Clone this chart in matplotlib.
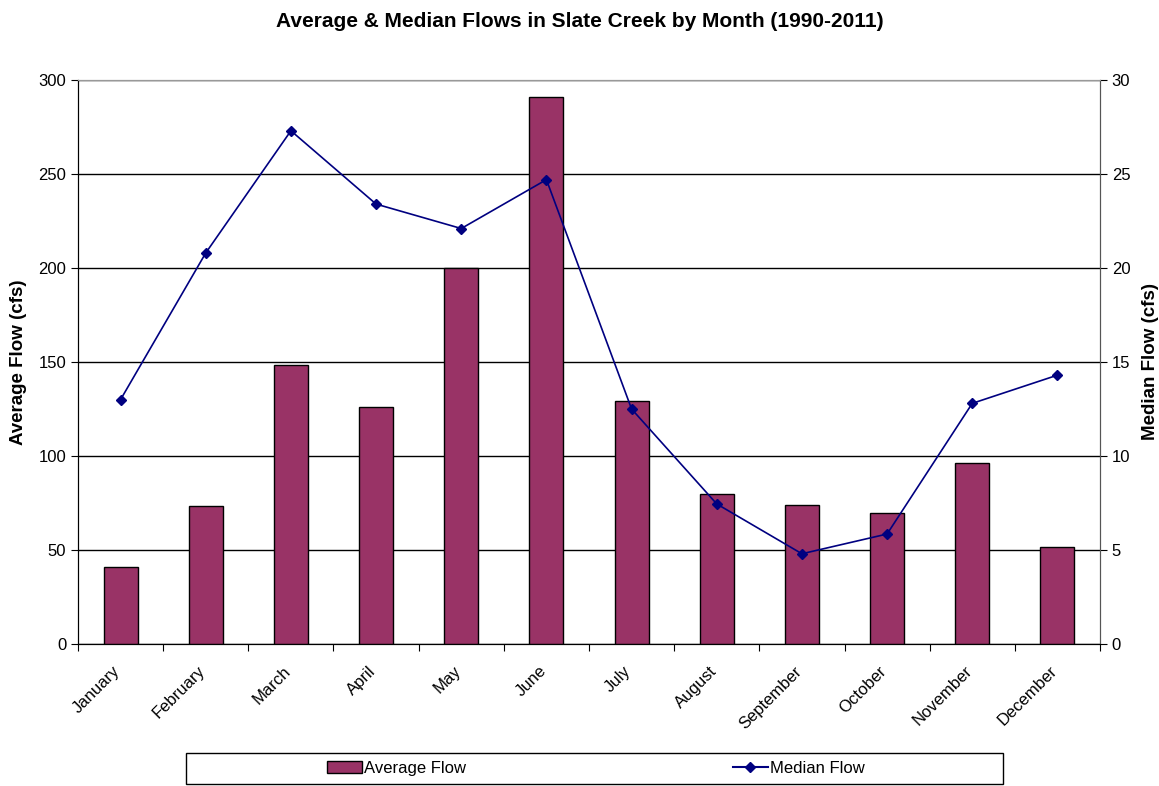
import numpy as np
import matplotlib.pyplot as plt
import matplotlib.transforms as mtransforms
from matplotlib.patches import Patch, Rectangle
from matplotlib.lines import Line2D

plt.rcParams['font.family'] = ['Liberation Sans', 'DejaVu Sans']

# --- dados ---
meses = ['January', 'February', 'March', 'April', 'May', 'June',
         'July', 'August', 'September', 'October', 'November', 'December']
vazao_media = [41, 73.5, 148.3, 126, 200.2, 291, 129.3, 79.7, 73.9, 69.8, 96.3, 51.7]
vazao_mediana = [13.0, 20.8, 27.3, 23.4, 22.1, 24.7, 12.5, 7.45, 4.8, 5.85, 12.8, 14.3]

cor_barra = '#993366'
cor_linha = '#000080'

fig = plt.figure(figsize=(11.59, 7.86), dpi=100)
ax1 = fig.add_axes([78/1159, 142/786, 1022/1159, 564/786])
ax2 = ax1.twinx()

x = np.arange(len(meses))

# barras (eixo esquerdo)
ax1.bar(x, vazao_media, width=0.4, color=cor_barra, edgecolor='black', linewidth=1, zorder=3)
ax1.set_xlim(-0.5, len(meses) - 0.5)
ax1.set_ylim(0, 300)
ax1.set_yticks(np.arange(0, 301, 50))
ax1.yaxis.grid(True, color='black', linewidth=1, zorder=0)
ax1.set_axisbelow(True)

# ticks nas divisões das categorias, rótulos no centro
ax1.set_xticks(np.arange(-0.5, len(meses), 1.0))
ax1.set_xticklabels([])
ax1.set_xticks(x, minor=True)
ax1.set_xticklabels(meses, minor=True, rotation=45, ha='right', rotation_mode='anchor', fontsize=12)
ax1.tick_params(axis='x', which='minor', length=0, pad=14)
ax1.tick_params(axis='x', which='major', length=5, direction='out', color='black')
ax1.tick_params(axis='y', labelsize=12, length=5, color='black')
desloc = mtransforms.ScaledTranslation(-8/100, 0, fig.dpi_scale_trans)
for rot in ax1.get_xticklabels(minor=True):
    rot.set_transform(rot.get_transform() + desloc)

ax1.set_ylabel('Average Flow (cfs)', fontsize=13.5, fontweight='bold', labelpad=8)

# linha da mediana (eixo direito)
ax2.plot(x, vazao_mediana, color=cor_linha, linewidth=1.2, marker='D', markersize=5, zorder=4)
ax2.set_ylim(0, 30)
ax2.set_yticks(np.arange(0, 31, 5))
ax2.tick_params(axis='y', labelsize=12, length=5, color='black')
ax2.set_ylabel('Median Flow (cfs)', fontsize=13.5, fontweight='bold', labelpad=8)

for ax in (ax1, ax2):
    ax.spines['top'].set_color('#999999')
    ax.spines['left'].set_color('black')
    ax.spines['bottom'].set_color('black')
    ax.spines['right'].set_color('#555555')

fig.suptitle('Average & Median Flows in Slate Creek by Month (1990-2011)',
             fontsize=15, fontweight='bold', y=0.985)

# legenda embaixo em caixa (moldura desenhada à parte)
fig.patches.append(Rectangle((186/1159, 2/786), 817/1159, 31/786, transform=fig.transFigure,
                             facecolor='white', edgecolor='black', linewidth=1))
itens = [Patch(facecolor=cor_barra, edgecolor='black', label='Average Flow'),
         Line2D([0], [0], color=cor_linha, marker='D', markersize=5, label='Median Flow')]
leg = fig.legend(handles=itens, loc='center', ncol=2,
                 bbox_to_anchor=(596/1159, 17.5/786),
                 frameon=False, fontsize=12, columnspacing=16,
                 handlelength=2.1, handletextpad=0.15)

fig.savefig('out.png', dpi=100)
